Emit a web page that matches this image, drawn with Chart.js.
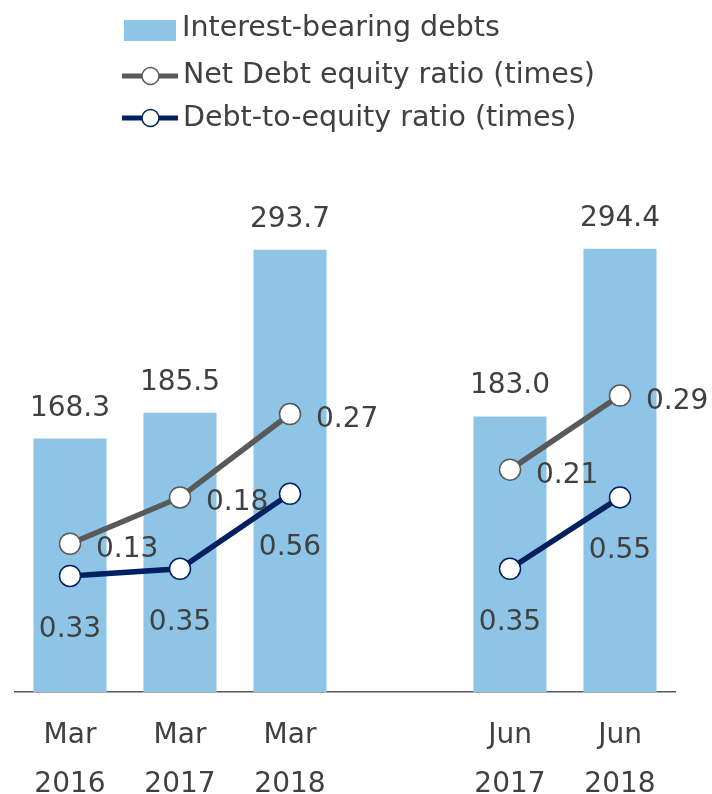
<!DOCTYPE html>
<html>
<head>
<meta charset="utf-8">
<script src="https://cdn.jsdelivr.net/npm/chart.js@4.4.0/dist/chart.umd.min.js"></script>
<style>
  html, body { margin: 0; padding: 0; background: #fff; }
</style>
</head>
<body>
<canvas id="chart" width="712" height="794"></canvas>
<script>
const periods = [["Mar", "2016"], ["Mar", "2017"], ["Mar", "2018"], "", ["Jun", "2017"], ["Jun", "2018"]];
const interestBearingDebts = [168.3, 185.5, 293.7, null, 183.0, 294.4];
const netDebtEquityRatio = [0.13, 0.18, 0.27, null, 0.21, 0.29];
const debtToEquityRatio = [0.33, 0.35, 0.56, null, 0.35, 0.55];

const FONT = "'DejaVu Sans', Verdana, sans-serif";
const TEXT = "#404040";
const BAR = "#8EC5E7";
const GRAY = "#595959";
const NAVY = "#002060";

// legend drawn at fixed spots above the plot
const legendBox = {
  id: "legendBox",
  afterDraw(chart) {
    const ctx = chart.ctx;
    ctx.save();
    ctx.font = "28.5px " + FONT;
    ctx.fillStyle = TEXT;
    ctx.textAlign = "left";
    ctx.textBaseline = "alphabetic";
    const ds = chart.data.datasets;

    ctx.fillStyle = ds[2].backgroundColor;
    ctx.fillRect(124, 20, 52, 21);
    ctx.fillStyle = TEXT;
    ctx.fillText(ds[2].label, 182, 36);

    [[ds[0], 76, 83], [ds[1], 118, 126]].forEach(([d, y, base]) => {
      ctx.strokeStyle = d.borderColor;
      ctx.lineWidth = 5;
      ctx.beginPath();
      ctx.moveTo(122, y);
      ctx.lineTo(178, y);
      ctx.stroke();
      ctx.beginPath();
      ctx.arc(150.5, y, 8.5, 0, Math.PI * 2);
      ctx.fillStyle = "#fff";
      ctx.fill();
      ctx.lineWidth = 1.5;
      ctx.stroke();
      ctx.fillStyle = TEXT;
      ctx.fillText(d.label, 183, base);
    });
    ctx.restore();
  }
};

const valueLabels = {
  id: "valueLabels",
  afterDatasetsDraw(chart) {
    const ctx = chart.ctx;
    ctx.save();
    ctx.font = "28px " + FONT;
    ctx.fillStyle = TEXT;
    ctx.textBaseline = "alphabetic";
    chart.data.datasets.forEach((ds, i) => {
      chart.getDatasetMeta(i).data.forEach((el, j) => {
        const v = ds.data[j];
        if (v == null) return;
        if (ds.type === "bar") {
          ctx.textAlign = "center";
          ctx.fillText(v.toFixed(1), el.x, el.y - 23);
        } else if (ds.yAxisID === "yNet") {
          ctx.textAlign = "left";
          ctx.fillText(v.toFixed(2), el.x + 26, el.y + 13);
        } else {
          ctx.textAlign = "center";
          ctx.fillText(v.toFixed(2), el.x, el.y + 61);
        }
      });
    });
    ctx.restore();
  }
};

new Chart(document.getElementById("chart"), {
  data: {
    labels: periods,
    datasets: [
      {
        type: "line",
        label: "Net Debt equity ratio (times)",
        data: netDebtEquityRatio,
        yAxisID: "yNet",
        borderColor: GRAY,
        borderWidth: 5.5,
        pointRadius: 10.5,
        pointBorderWidth: 1.5,
        pointBackgroundColor: "#fff",
        pointBorderColor: GRAY,
        spanGaps: false,
        order: 0
      },
      {
        type: "line",
        label: "Debt-to-equity ratio (times)",
        data: debtToEquityRatio,
        yAxisID: "yDe",
        borderColor: NAVY,
        borderWidth: 5.5,
        pointRadius: 10.5,
        pointBorderWidth: 1.5,
        pointBackgroundColor: "#fff",
        pointBorderColor: NAVY,
        spanGaps: false,
        order: 1
      },
      {
        type: "bar",
        label: "Interest-bearing debts",
        data: interestBearingDebts,
        yAxisID: "y",
        backgroundColor: BAR,
        categoryPercentage: 1,
        barPercentage: 0.664,
        order: 2
      }
    ]
  },
  options: {
    responsive: false,
    animation: false,
    layout: { padding: { top: 150, left: 15, right: 37, bottom: 0 } },
    plugins: { legend: { display: false }, tooltip: { enabled: false } },
    scales: {
      x: {
        grid: { display: false, drawTicks: false },
        border: { display: true, color: GRAY, width: 1.5 },
        ticks: {
          color: TEXT,
          font: { family: FONT, size: 28, lineHeight: 1.765 },
          padding: 19,
          autoSkip: false,
          maxRotation: 0
        },
        afterFit(scale) { scale.height = 102; }
      },
      y: { display: false, min: 0, max: 360 },
      yNet: { display: false, min: -0.03, max: 0.555 },
      yDe: { display: false, min: 0.005, max: 1.523 }
    }
  },
  plugins: [valueLabels, legendBox]
});
</script>
</body>
</html>
